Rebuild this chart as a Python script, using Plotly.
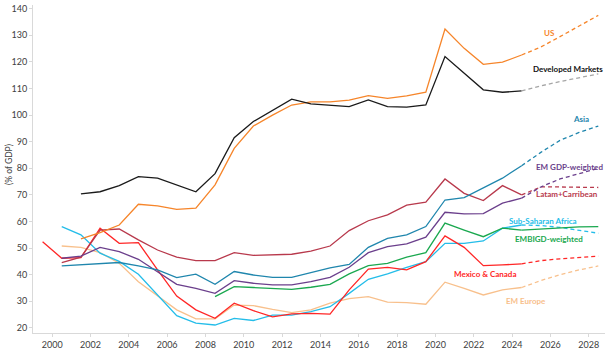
import plotly.graph_objects as go

# ---- data (x are mid-year positions) ----
years_hist = [1999.5 + i for i in range(26)]  # 1999.5 .. 2024.5
years_fc = [2024.5, 2025.5, 2026.5, 2027.5, 2028.5]

N = None
dm_hist = [N, N, 70.4, 71.2, 73.5, 76.9, 76.3, 73.8, 71.2, 78.0, 91.5, 97.6, 101.7, 106.0, 104.2, 103.7, 103.2, 105.7, 103.2, 103.0, 103.8, 122.0, 115.7, 109.5, 108.6, 109.1]
dm_fc = [109.1, 111.0, 112.6, 114.0, 115.5]

us_hist = [N, N, 53.5, 55.8, 58.7, 66.5, 65.9, 64.6, 65.0, 73.8, 87.5, 95.9, 100.0, 103.8, 105.0, 105.0, 105.6, 107.3, 106.3, 107.2, 108.6, 132.4, 125.1, 119.1, 119.9, 122.6]
us_fc = [122.6, 125.6, 129.5, 133.5, 137.5]

asia_hist = [N, 43.3, 43.8, 44.3, 44.6, 43.3, 41.8, 38.9, 40.2, 36.4, 41.2, 39.9, 39.0, 39.0, 40.8, 42.6, 43.9, 50.3, 53.7, 55.0, 58.1, 68.1, 69.0, 72.5, 76.3, 81.0]
asia_fc = [81.0, 86.0, 90.5, 93.5, 95.9]

emgdp_hist = [N, 46.2, 47.0, 50.3, 48.7, 45.8, 41.2, 36.4, 34.9, 33.0, 37.8, 36.8, 36.2, 36.2, 37.4, 39.0, 42.8, 48.3, 50.6, 51.6, 54.1, 63.5, 62.9, 63.0, 66.9, 68.8]
emgdp_fc = [68.8, 73.0, 76.0, 78.0, 80.0]

latam_hist = [N, 44.6, 46.6, 56.8, 57.2, 53.1, 49.3, 46.6, 45.3, 45.3, 48.3, 47.3, 47.4, 47.7, 48.9, 50.8, 56.6, 60.3, 62.5, 66.2, 67.3, 76.0, 70.6, 67.9, 73.5, 70.0]
latam_fc = [70.0, 73.0, 73.0, 73.0, 72.8]

ssa_hist = [N, 58.1, 55.0, 48.1, 45.0, 40.2, 32.4, 24.6, 21.8, 21.1, 23.6, 22.8, 24.8, 24.8, 26.1, 28.0, 33.0, 38.3, 40.3, 42.8, 44.9, 51.8, 51.8, 52.7, 57.5, 58.7]
ssa_fc = [58.7, 58.5, 57.8, 56.8, 55.6]

embigd_hist = [N, N, N, N, N, N, N, N, N, 31.8, 35.5, 35.2, 34.8, 34.5, 35.3, 36.4, 40.3, 43.4, 44.3, 46.6, 48.3, 59.4, 56.8, 54.3, 57.5, 56.8]
embigd_fc = [56.8, 57.2, 57.8, 58.0, 58.1]

mxca_hist = [52.4, 46.2, 46.4, 57.5, 51.8, 52.1, 41.8, 32.0, 26.8, 23.6, 29.3, 26.5, 24.2, 25.3, 25.5, 25.2, 34.3, 42.1, 42.8, 41.8, 44.9, 54.6, 50.3, 43.4, 43.7, 44.1]
mxca_fc = [44.1, 45.3, 46.0, 46.6, 47.0]

emeu_hist = [N, 50.8, 50.3, 48.3, 44.3, 37.4, 32.0, 26.8, 23.4, 23.4, 28.6, 28.4, 27.0, 25.8, 26.8, 29.3, 31.0, 31.8, 29.7, 29.5, 28.9, 37.2, 34.9, 32.4, 34.3, 35.2]
emeu_fc = [35.2, 37.8, 40.0, 41.8, 43.3]

tick_years = [2000, 2002, 2004, 2006, 2008, 2010, 2012, 2014, 2016, 2018, 2020, 2022, 2024, 2026, 2028]
y_ticks = [20, 30, 40, 50, 60, 70, 80, 90, 100, 110, 120, 130, 140]

series = [
    # name, hist, fc, color, fc_color, fc_dash, label x, label y
    ("EM Europe", emeu_hist, emeu_fc, "#f8c08c", "#f8c08c", "4px,3px", 2024.72, 30.0),
    ("Sub-Saharan Africa", ssa_hist, ssa_fc, "#24bde9", "#24bde9", "4px,3px", 2025.6, 60.3),
    ("EMBIGD-weighted", embigd_hist, embigd_fc, "#1aa84f", "#1aa84f", "solid", 2025.92, 53.6),
    ("Mexico & Canada", mxca_hist, mxca_fc, "#ff2626", "#ff2626", "4px,3px", 2022.57, 40.3),
    ("Latam+Carribean", latam_hist, latam_fc, "#b8394c", "#b8394c", "4px,3px", 2026.86, 70.3),
    ("EM GDP-weighted", emgdp_hist, emgdp_fc, "#6b3f8c", "#6b3f8c", "4px,3px", 2026.98, 80.5),
    ("Asia", asia_hist, asia_fc, "#1f86ad", "#1f86ad", "4px,3px", 2027.6, 98.4),
    ("US", us_hist, us_fc, "#f6852a", "#f6852a", "4px,3px", 2025.97, 131.0),
    ("Developed Markets", dm_hist, dm_fc, "#1a1a1a", "#a6a6a6", "4px,3px", 2026.93, 117.3),
]

fig = go.Figure()
for name, hist, fc, col, fcol, dash, lx, ly in series:
    fig.add_trace(go.Scatter(x=years_hist, y=hist, mode="lines", name=name,
                             line=dict(color=col, width=1.3), showlegend=False,
                             connectgaps=False))
    fig.add_trace(go.Scatter(x=years_fc, y=fc, mode="lines", name=name + " forecast",
                             line=dict(color=fcol, width=1.3, dash=dash), showlegend=False))
    tcol = "#111111" if name == "Developed Markets" else col
    fig.add_annotation(x=lx, y=ly, text="<b>" + name + "</b>", showarrow=False,
                       font=dict(family="Lato", size=8, color=tcol), xanchor="center", yanchor="middle")

fig.add_annotation(xref="paper", yref="paper", x=0, y=0.512, xshift=-24, xanchor="center",
                   yanchor="middle", text="(% of GDP)",
                   textangle=-90, showarrow=False, font=dict(family="Lato", size=8.5, color="#404040"))

fig.update_layout(
    width=605, height=352,
    margin=dict(l=33, r=0, t=5, b=19),
    plot_bgcolor="white", paper_bgcolor="white",
    font=dict(family="Lato", size=9, color="#595959"),
    xaxis=dict(range=[1999.0, 2028.85], tickvals=tick_years, ticktext=[str(t) for t in tick_years],
               showgrid=False, zeroline=False, showline=True, linecolor="#d9d9d9", linewidth=1,
               ticks="outside", ticklen=3, tickcolor="#d9d9d9",
               tickfont=dict(family="Lato", size=9, color="#404040")),
    yaxis=dict(range=[18.1, 141.4], tickvals=y_ticks, showgrid=False, zeroline=False,
               showline=True, linecolor="#d9d9d9", linewidth=1, ticks="outside", ticklen=3,
               tickcolor="#d9d9d9", tickfont=dict(family="Lato", size=9, color="#404040")),
)

fig.write_html("out.html")
